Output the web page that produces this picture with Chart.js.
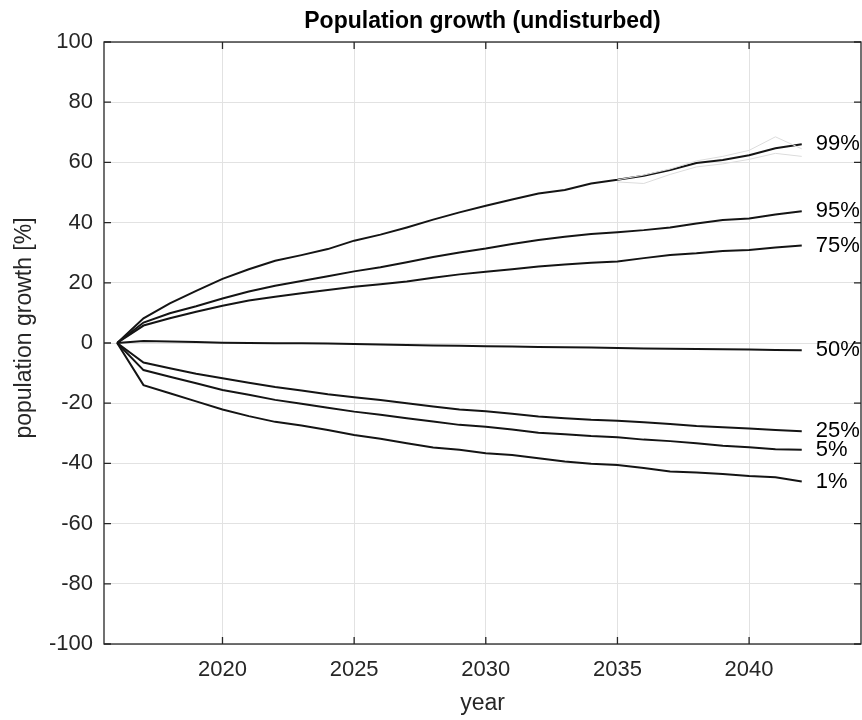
<!DOCTYPE html>
<html>
<head>
<meta charset="utf-8">
<script src="https://cdn.jsdelivr.net/npm/chart.js@4.4.1/dist/chart.umd.min.js"></script>
<style>
  html, body { margin: 0; padding: 0; background: #fff; }
  canvas { display: block; }
</style>
</head>
<body>
<canvas id="chart" width="862" height="720"></canvas>
<script>
// years of the simulation
const years = [2016, 2017, 2018, 2019, 2020, 2021, 2022, 2023, 2024, 2025, 2026, 2027, 2028, 2029,
  2030, 2031, 2032, 2033, 2034, 2035, 2036, 2037, 2038, 2039, 2040, 2041, 2042];

// percentile curves, population growth in %
const p99 = [0, 8.2, 13.2, 17.3, 21.3, 24.5, 27.3, 29.2, 31.2, 34.0, 36.0, 38.4, 41.0, 43.4,
  45.6, 47.7, 49.7, 50.8, 53.0, 54.2, 55.6, 57.5, 59.8, 60.8, 62.4, 64.7, 66.0];
const p95 = [0, 6.8, 9.9, 12.2, 14.8, 17.1, 19.0, 20.6, 22.2, 23.8, 25.2, 26.8, 28.6, 30.1,
  31.4, 32.9, 34.2, 35.3, 36.2, 36.8, 37.5, 38.4, 39.7, 40.9, 41.4, 42.7, 43.8];
const p75 = [0, 5.8, 8.2, 10.4, 12.4, 14.1, 15.4, 16.5, 17.6, 18.7, 19.5, 20.4, 21.7, 22.8,
  23.7, 24.5, 25.4, 26.1, 26.7, 27.1, 28.2, 29.2, 29.8, 30.6, 30.9, 31.7, 32.4];
const p50 = [0, 0.7, 0.5, 0.3, 0.1, 0.0, -0.1, -0.1, -0.2, -0.3, -0.5, -0.7, -0.8, -0.9,
  -1.1, -1.2, -1.3, -1.4, -1.5, -1.7, -1.8, -1.9, -2.0, -2.1, -2.2, -2.3, -2.4];
const p25 = [0, -6.5, -8.4, -10.2, -11.7, -13.2, -14.6, -15.8, -17.0, -18.0, -18.9, -20.0, -21.1, -22.1,
  -22.7, -23.5, -24.4, -25.0, -25.5, -25.8, -26.3, -26.9, -27.6, -28.0, -28.4, -28.9, -29.3];
const p5 = [0, -9.0, -11.2, -13.4, -15.6, -17.2, -18.9, -20.2, -21.5, -22.8, -23.8, -25.0, -26.1, -27.2,
  -27.8, -28.7, -29.8, -30.3, -30.9, -31.3, -32.1, -32.6, -33.3, -34.1, -34.6, -35.3, -35.5];
const p1 = [0, -14.0, -16.7, -19.4, -22.1, -24.3, -26.2, -27.4, -28.9, -30.6, -31.8, -33.3, -34.7, -35.5,
  -36.6, -37.2, -38.3, -39.4, -40.1, -40.5, -41.5, -42.7, -43.0, -43.5, -44.2, -44.6, -46.0];

const percentileLabels = ['99%', '95%', '75%', '50%', '25%', '5%', '1%'];
const percentileSeries = [p99, p95, p75, p50, p25, p5, p1];

// a few of the faint single runs visible around the 99% curve
const runYears = [2035, 2036, 2037, 2038, 2039, 2040, 2041, 2042];
const runHigh = [54.2, 55.8, 57.8, 60.5, 62.0, 64.0, 68.5, 64.5];
const runLow = [53.5, 53.0, 56.0, 58.5, 59.5, 61.0, 63.0, 62.0];

const xTicks = [2020, 2025, 2030, 2035, 2040];
const yLabel = 'population growth [%]';

const toPoints = (xs, ys) => xs.map((x, i) => ({ x: x, y: ys[i] }));

const datasets = [
  { data: toPoints(runYears, runHigh), borderColor: '#dcdcdc', borderWidth: 1 },
  { data: toPoints(runYears, runLow), borderColor: '#dcdcdc', borderWidth: 1 }
];
percentileSeries.forEach((vals, i) => {
  datasets.push({
    label: percentileLabels[i],
    data: toPoints(years, vals),
    borderColor: '#141414',
    borderWidth: 2
  });
});

const font = '"Liberation Sans", Arial, sans-serif';

// MATLAB-like box with inward ticks, the labels at the line ends and the y label
const boxPlugin = {
  id: 'boxPlugin',
  afterDatasetsDraw(chart) {
    const { ctx, chartArea: a, scales: { x, y } } = chart;
    ctx.save();
    ctx.strokeStyle = '#262626';
    ctx.lineWidth = 1.3;
    ctx.strokeRect(a.left, a.top, a.right - a.left, a.bottom - a.top);
    ctx.beginPath();
    x.ticks.forEach(t => {
      const px = x.getPixelForValue(t.value);
      ctx.moveTo(px, a.bottom); ctx.lineTo(px, a.bottom - 7);
      ctx.moveTo(px, a.top); ctx.lineTo(px, a.top + 7);
    });
    y.ticks.forEach(t => {
      const py = y.getPixelForValue(t.value);
      ctx.moveTo(a.left, py); ctx.lineTo(a.left + 7, py);
      ctx.moveTo(a.right, py); ctx.lineTo(a.right - 7, py);
    });
    ctx.stroke();

    ctx.font = '22px ' + font;
    ctx.fillStyle = '#000';
    ctx.textBaseline = 'middle';
    ctx.textAlign = 'left';
    const lastYear = years[years.length - 1];
    percentileSeries.forEach((vals, i) => {
      ctx.fillText(percentileLabels[i], x.getPixelForValue(lastYear) + 14,
        y.getPixelForValue(vals[vals.length - 1]));
    });

    // y axis label, sits a little above the axis centre like in the original
    ctx.font = '23px ' + font;
    ctx.fillStyle = '#262626';
    ctx.textAlign = 'center';
    ctx.translate(25, (a.top + a.bottom) / 2 - 15);
    ctx.rotate(-Math.PI / 2);
    ctx.fillText(yLabel, 0, 0);
    ctx.restore();
  }
};

new Chart(document.getElementById('chart'), {
  type: 'line',
  data: { datasets: datasets },
  plugins: [boxPlugin],
  options: {
    responsive: false,
    devicePixelRatio: 1,
    animation: false,
    layout: { padding: { left: 0, right: 1, top: 0, bottom: 0 } },
    elements: {
      point: { radius: 0 },
      line: { tension: 0, fill: false }
    },
    plugins: {
      legend: { display: false },
      tooltip: { enabled: false },
      title: {
        display: true,
        text: 'Population growth (undisturbed)',
        fullSize: false,
        color: '#000',
        font: { family: font, size: 23, weight: 'bold' },
        padding: { top: 8, bottom: 6.4 }
      }
    },
    scales: {
      x: {
        type: 'linear',
        min: 2015.5,
        max: 2044.25,
        afterBuildTicks: scale => { scale.ticks = xTicks.map(v => ({ value: v })); },
        afterFit: scale => { scale.height = 76; },
        ticks: {
          color: '#262626',
          font: { family: font, size: 22 },
          padding: 13,
          maxRotation: 0,
          callback: v => String(v)
        },
        grid: { color: '#e2e2e2', lineWidth: 1, drawTicks: false },
        border: { display: false },
        title: {
          display: true,
          text: 'year',
          color: '#262626',
          font: { family: font, size: 23 },
          padding: { top: 0, bottom: 3 }
        }
      },
      y: {
        min: -100,
        max: 100,
        afterFit: scale => { scale.width = 104; },
        ticks: {
          stepSize: 20,
          color: '#262626',
          font: { family: font, size: 22 },
          padding: 11,
          callback: v => String(v)
        },
        grid: { color: '#e2e2e2', lineWidth: 1, drawTicks: false },
        border: { display: false }
      }
    }
  }
});
</script>
</body>
</html>
